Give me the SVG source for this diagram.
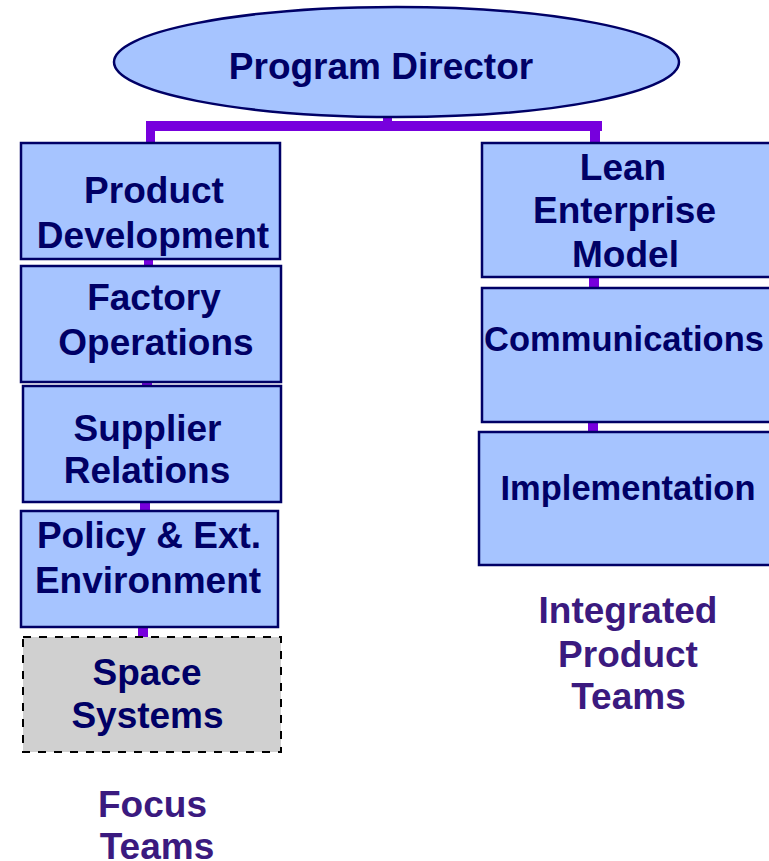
<svg xmlns="http://www.w3.org/2000/svg" width="769" height="861" viewBox="0 0 769 861">
<style>
.box{fill:#a6c4ff;stroke:#000066;stroke-width:2.5}
.dash{fill:#d0d0d0;stroke:#000000;stroke-width:2;stroke-dasharray:8,8}
.t{font-family:"Liberation Sans",Arial,sans-serif;font-weight:bold;font-size:37px;fill:#000066;text-anchor:middle}
.s{font-size:34.5px}
.lbl{font-family:"Liberation Sans",Arial,sans-serif;font-weight:bold;font-size:37px;fill:#3b1a7f;text-anchor:middle}
.c{fill:#7700dd}
</style>
<rect width="769" height="861" fill="#ffffff"/>
<g id="connectors">
<rect class="c" x="383" y="115" width="9" height="8"/>
<rect class="c" x="147" y="121" width="455" height="10"/>
<rect class="c" x="146" y="121" width="9" height="23"/>
<rect class="c" x="590" y="121" width="10" height="23"/>
<rect class="c" x="144" y="258" width="9" height="9"/>
<rect class="c" x="142" y="381" width="10" height="6"/>
<rect class="c" x="140" y="501" width="10" height="11"/>
<rect class="c" x="138" y="626" width="10" height="12"/>
<rect class="c" x="589" y="276" width="10" height="12"/>
<rect class="c" x="588" y="421" width="10" height="12"/>
</g>
<g id="program-director">
<ellipse class="box" cx="396.5" cy="62" rx="282.5" ry="55"/>
<text class="t" x="381" y="79">Program Director</text>
</g>
<g id="product-development">
<rect class="box" x="21" y="143" width="259" height="116"/>
<text class="t" x="154" y="203">Product</text>
<text class="t" x="153" y="248">Development</text>
</g>
<g id="factory-operations">
<rect class="box" x="21" y="266" width="260" height="116"/>
<text class="t" x="154" y="310">Factory</text>
<text class="t" x="156" y="355">Operations</text>
</g>
<g id="supplier-relations">
<rect class="box" x="23" y="386" width="258" height="116"/>
<text class="t" x="147.5" y="441">Supplier</text>
<text class="t" x="147" y="483">Relations</text>
</g>
<g id="policy-environment">
<rect class="box" x="21" y="511" width="257" height="116"/>
<text class="t" x="149" y="548">Policy &amp; Ext.</text>
<text class="t" x="148" y="593">Environment</text>
</g>
<g id="space-systems">
<rect class="dash" x="23" y="637" width="258" height="115"/>
<text class="t" x="147" y="685">Space</text>
<text class="t" x="147.5" y="728">Systems</text>
</g>
<g id="lean-enterprise-model">
<rect class="box" x="482" y="143" width="310" height="134"/>
<text class="t" x="623" y="180">Lean</text>
<text class="t" x="624.5" y="223">Enterprise</text>
<text class="t" x="625.5" y="267">Model</text>
</g>
<g id="communications">
<rect class="box" x="482" y="288" width="310" height="134"/>
<text class="t s" x="624" y="351">Communications</text>
</g>
<g id="implementation">
<rect class="box" x="479" y="432" width="313" height="133"/>
<text class="t s" x="628" y="500">Implementation</text>
</g>
<g id="integrated-product-teams">
<text class="lbl" x="628" y="623">Integrated</text>
<text class="lbl" x="628" y="667">Product</text>
<text class="lbl" x="628.5" y="709">Teams</text>
</g>
<g id="focus-teams">
<text class="lbl" x="152.5" y="817">Focus</text>
<text class="lbl" x="157" y="859">Teams</text>
</g>
</svg>
